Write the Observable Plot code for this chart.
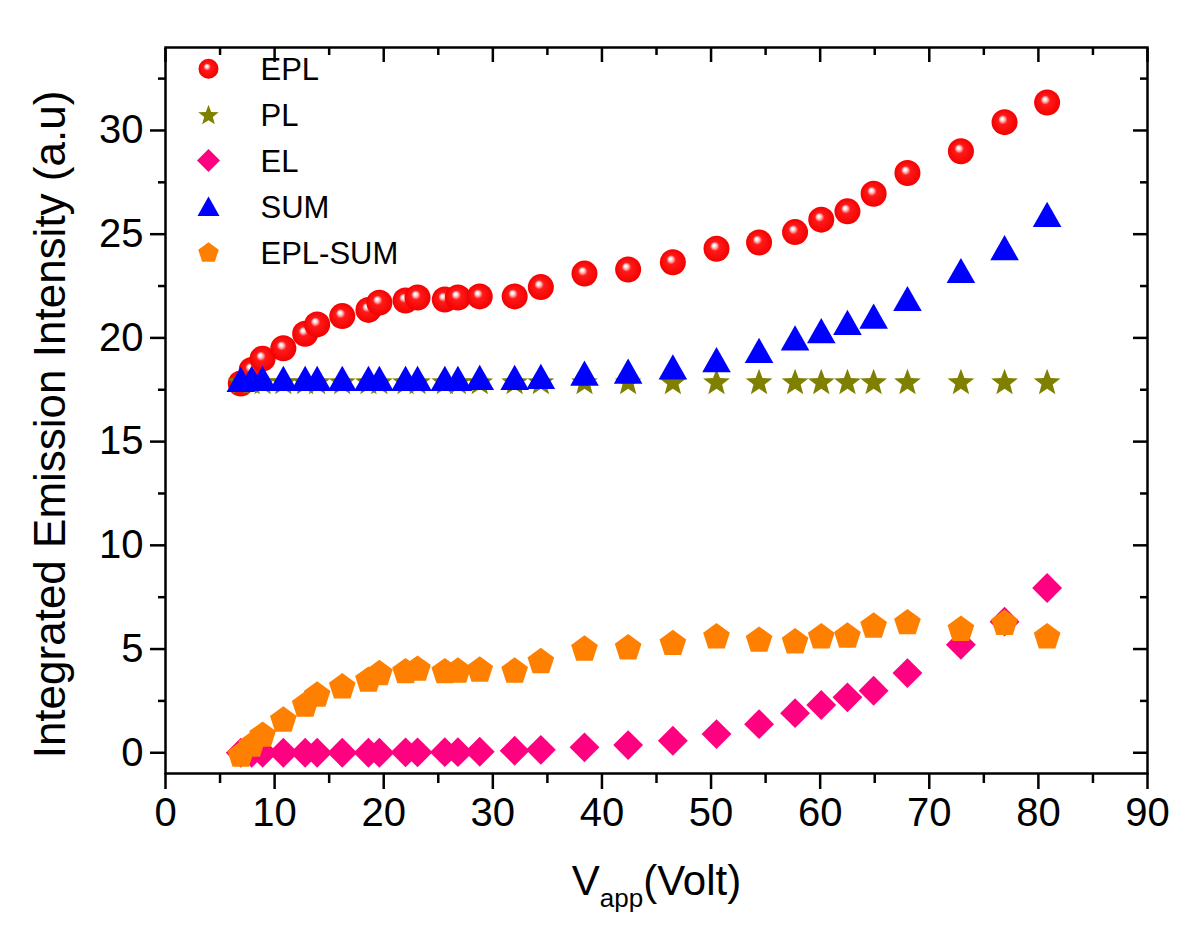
<!DOCTYPE html>
<html>
<head>
<meta charset="utf-8">
<script src="https://cdn.jsdelivr.net/npm/d3@7"></script>
<script src="https://cdn.jsdelivr.net/npm/@observablehq/plot@0.6"></script>
<style>
  body { margin: 0; background: #fff; }
  #chart { width: 1200px; height: 949px; }
</style>
</head>
<body>
<div id="chart"></div>
<script>
// ---- data ----
const vapp   = [6.9, 7.9, 8.9, 10.8, 12.8, 13.9, 16.2, 18.6, 19.6, 22.0, 23.1, 25.6, 26.8, 28.8, 32.0, 34.4, 38.4, 42.4, 46.5, 50.5, 54.4, 57.7, 60.1, 62.5, 64.9, 68.0, 72.9, 76.9, 80.8];
const eplVals = [17.8, 18.45, 19.0, 19.5, 20.2, 20.65, 21.05, 21.35, 21.7, 21.8, 21.95, 21.85, 21.95, 22.0, 22.0, 22.45, 23.1, 23.3, 23.65, 24.3, 24.6, 25.1, 25.7, 26.1, 26.95, 27.95, 29.0, 30.4, 31.35];
const plVals  = [17.9, 17.9, 17.9, 17.9, 17.9, 17.9, 17.9, 17.9, 17.9, 17.9, 17.9, 17.9, 17.9, 17.9, 17.9, 17.9, 17.9, 17.9, 17.9, 17.9, 17.9, 17.9, 17.9, 17.9, 17.9, 17.9, 17.9, 17.9, 17.9];
const elVals  = [0, 0, 0, 0, 0, 0, 0, 0, 0, 0.02, 0.02, 0.03, 0.03, 0.05, 0.1, 0.14, 0.26, 0.37, 0.58, 0.9, 1.38, 1.91, 2.3, 2.67, 2.99, 3.84, 5.21, 6.32, 7.94];
const sumVals = [18.0, 18.05, 18.05, 18.05, 18.05, 18.05, 18.05, 18.05, 18.05, 18.05, 18.05, 18.05, 18.05, 18.1, 18.1, 18.15, 18.3, 18.4, 18.6, 18.95, 19.4, 20.0, 20.35, 20.75, 21.05, 21.9, 23.25, 24.35, 25.95];
const diffVals = [-0.06, 0.42, 0.9, 1.63, 2.35, 2.83, 3.23, 3.55, 3.87, 3.96, 4.08, 3.96, 3.99, 4.04, 3.99, 4.45, 5.05, 5.11, 5.32, 5.64, 5.48, 5.4, 5.64, 5.68, 6.16, 6.32, 6.0, 6.29, 5.64];

const seriesNames  = ["EPL", "PL", "EL", "SUM", "EPL-SUM"];
const seriesColors = ["url(#sphere)", "#808000", "#ff0080", "#0000ff", "#ff8000"];

const xTicks = [0, 10, 20, 30, 40, 50, 60, 70, 80, 90];
const xMinor = [5, 15, 25, 35, 45, 55, 65, 75, 85];
const yTicks = [0, 5, 10, 15, 20, 25, 30];
const yMinor = [2.5, 7.5, 12.5, 17.5, 22.5, 27.5, 32.5];

const yTitle = "Integrated Emission Intensity (a.u)";
const xTitleParts = ["V", "app", "(Volt)"];

// ---- custom marker shapes (centred on their bounding box) ----
const rad = size => Math.sqrt(size / Math.PI);
const triangle = { draw(ctx, size) { const r = rad(size), w = 1.1 * r, h = 0.97 * r;
  ctx.moveTo(0, -h); ctx.lineTo(w, h); ctx.lineTo(-w, h); ctx.closePath(); } };
const diamond = { draw(ctx, size) { const a = 1.15 * rad(size);
  ctx.moveTo(0, -a); ctx.lineTo(a, 0); ctx.lineTo(0, a); ctx.lineTo(-a, 0); ctx.closePath(); } };
const star = { draw(ctx, size) { const R = 1.08 * rad(size), ri = R * 0.42, off = 0.095 * R;
  for (let i = 0; i < 10; i++) { const a = -Math.PI / 2 + i * Math.PI / 5, rr = i % 2 ? ri : R;
    const px = rr * Math.cos(a), py = rr * Math.sin(a) + off; i ? ctx.lineTo(px, py) : ctx.moveTo(px, py); }
  ctx.closePath(); } };
const pentagon = { draw(ctx, size) { const R = 1.08 * rad(size), off = 0.095 * R;
  for (let i = 0; i < 5; i++) { const a = -Math.PI / 2 + i * 2 * Math.PI / 5;
    const px = R * Math.cos(a), py = R * Math.sin(a) + off; i ? ctx.lineTo(px, py) : ctx.moveTo(px, py); }
  ctx.closePath(); } };
const seriesSymbols = ["circle", star, diamond, triangle, pentagon];

const rows = vapp.map((x, i) => ({ x, EPL: eplVals[i], PL: plVals[i], EL: elVals[i], SUM: sumVals[i], "EPL-SUM": diffVals[i] }));

const R = 13, RL = 10, SW = 2.5;
const tickFont = 40;

const dataMarks = seriesNames.map((name, i) =>
  Plot.dot(rows, { x: "x", y: name, r: R, symbol: seriesSymbols[i], fill: seriesColors[i], stroke: "none" }));

const legendMarks = seriesNames.flatMap((name, i) => [
  Plot.dot([name], { x: null, y: null, frameAnchor: "top-left", dx: 43, dy: 21.3 + i * 45.8, r: RL, symbol: seriesSymbols[i], fill: seriesColors[i], stroke: "none" }),
  Plot.text([name], { x: null, y: null, frameAnchor: "top-left", dx: 95, dy: 23 + i * 45.8, text: d => d, textAnchor: "start", lineAnchor: "middle", fontSize: 31, fill: "#000" })
]);

const chart = Plot.plot({
  width: 1200,
  height: 949,
  marginLeft: 165,
  marginRight: 53,
  marginTop: 47,
  marginBottom: 176,
  style: { fontFamily: "'Liberation Sans', Arial, sans-serif", background: "#fff", color: "#000" },
  x: { domain: [0, 90] },
  y: { domain: [-1, 34] },
  marks: [
    ...dataMarks,
    Plot.frame({ stroke: "#000", strokeWidth: SW }),
    // bottom axis: outward ticks + labels
    Plot.axisX({ anchor: "bottom", ticks: xTicks, tickSize: 16, tickPadding: 8, fontSize: tickFont, label: null, strokeWidth: SW }),
    Plot.axisX({ anchor: "bottom", ticks: xMinor, tickSize: 10, fill: "none", label: null, strokeWidth: SW }),
    // top axis: inward ticks
    Plot.axisX({ anchor: "top", ticks: xTicks, tickSize: 14, dy: 14, fill: "none", label: null, strokeWidth: SW }),
    Plot.axisX({ anchor: "top", ticks: xMinor, tickSize: 7, dy: 7, fill: "none", label: null, strokeWidth: SW }),
    // left axis: outward ticks + labels
    Plot.axisY({ anchor: "left", ticks: yTicks, tickSize: 15, tickPadding: 7, fontSize: tickFont, label: null, strokeWidth: SW }),
    Plot.axisY({ anchor: "left", ticks: yMinor, tickSize: 7, fill: "none", label: null, strokeWidth: SW }),
    // right axis: inward ticks
    Plot.axisY({ anchor: "right", ticks: yTicks, tickSize: 15, dx: -15, fill: "none", label: null, strokeWidth: SW }),
    Plot.axisY({ anchor: "right", ticks: yMinor, tickSize: 8, dx: -8, fill: "none", label: null, strokeWidth: SW }),
    ...legendMarks,
    // axis titles
    Plot.text([yTitle], { x: null, y: null, frameAnchor: "left", dx: -115, dy: 14, rotate: -90, text: d => d, fontSize: 44, lineAnchor: "middle", textAnchor: "middle", fill: "#000" }),
    Plot.text([xTitleParts.join("")], { x: null, y: null, frameAnchor: "bottom", dx: 0, dy: 108, text: d => d, fontSize: 42, lineAnchor: "middle", textAnchor: "middle", fill: "#000" })
  ]
});

// sphere gradient for the EPL markers
const ns = "http://www.w3.org/2000/svg";
const defs = document.createElementNS(ns, "defs");
defs.innerHTML = `<radialGradient id="sphere" cx="0.5" cy="0.5" r="0.5" fx="0.4" fy="0.36">
  <stop offset="0" stop-color="#ffffff"/>
  <stop offset="0.07" stop-color="#ffffff"/>
  <stop offset="0.2" stop-color="#ffb0b0"/>
  <stop offset="0.36" stop-color="#ff1a1a"/>
  <stop offset="1" stop-color="#f40000"/>
</radialGradient>`;
chart.insertBefore(defs, chart.firstChild);

// subscript in the x title
const joined = xTitleParts.join("");
chart.querySelectorAll("text").forEach(xt => {
  if (xt.textContent !== joined) return;
  while (xt.firstChild) xt.removeChild(xt.firstChild);
  const t1 = document.createElementNS(ns, "tspan"); t1.textContent = xTitleParts[0];
  const t2 = document.createElementNS(ns, "tspan"); t2.textContent = xTitleParts[1];
  t2.setAttribute("font-size", "26"); t2.setAttribute("dy", "12");
  const t3 = document.createElementNS(ns, "tspan"); t3.textContent = xTitleParts[2];
  t3.setAttribute("dy", "-12");
  xt.append(t1, t2, t3);
});

document.getElementById("chart").appendChild(chart);
</script>
</body>
</html>
